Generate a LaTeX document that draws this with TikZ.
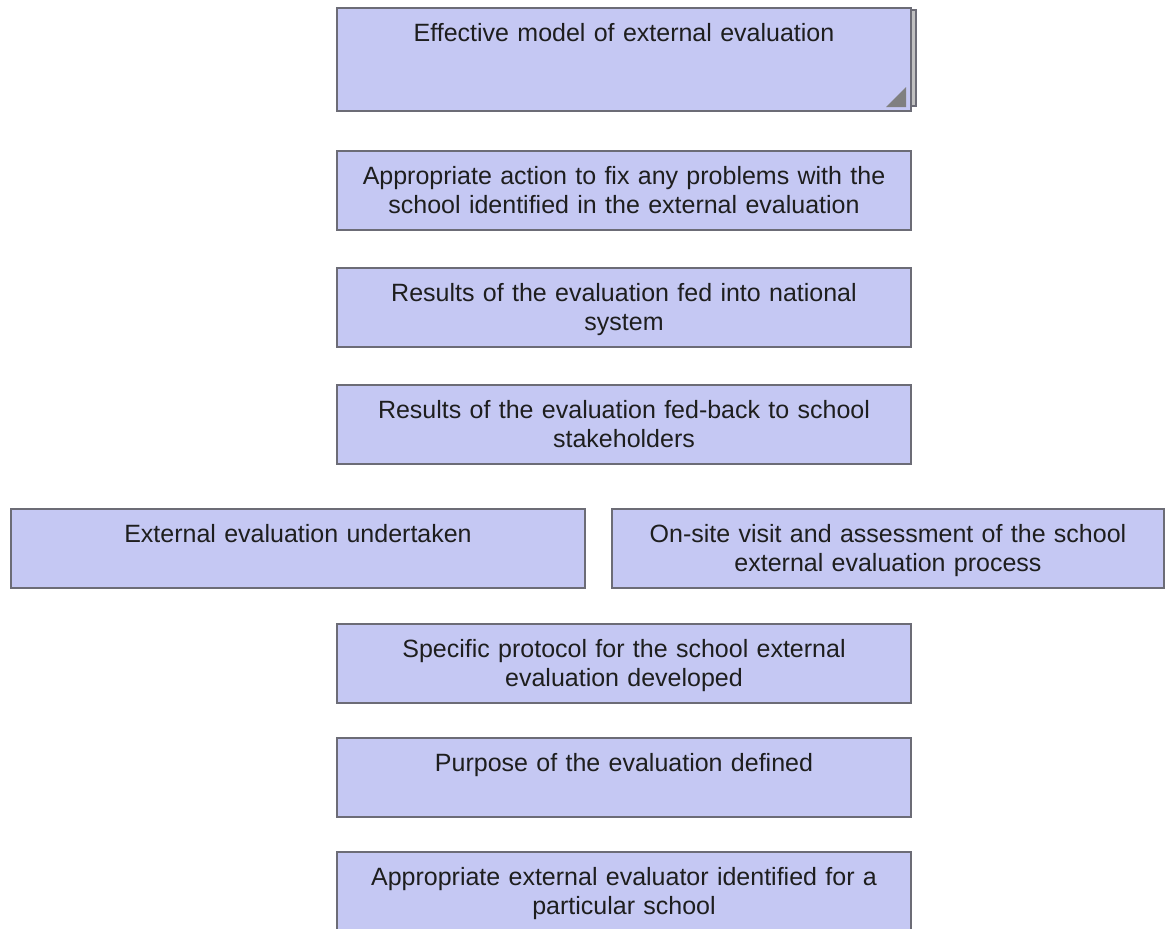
\documentclass[tikz,border=0pt]{standalone}
\usepackage{fontspec}
\setmainfont{Liberation Sans}
\usepackage{tikz}

\definecolor{stagefill}{RGB}{197,200,243}
\definecolor{stageline}{RGB}{108,108,118}
\definecolor{stagetext}{RGB}{30,30,30}
\definecolor{pagegrey}{RGB}{192,192,192}
\definecolor{cornergrey}{RGB}{128,128,128}

\tikzset{
	stage/.style={draw=stageline, fill=stagefill, line width=1pt, anchor=north,
		text=stagetext, align=center, inner xsep=0pt, inner ysep=0pt,
		font=\fontsize{12.5}{14.5}\selectfont,
		text width=287pt, text height=16.5pt, text depth=23pt},
	tall/.style={text depth=35pt}
}

\begin{document}
\begin{tikzpicture}[x=.5pt,y=-.5pt]

	\useasboundingbox (0,0) rectangle (1168,928);

	% page stacked behind the top box
	\draw[stageline, fill=pagegrey, line width=.8pt] (905,10) rectangle (916,106);

	\node[stage,tall] (model) at (624,7) {Effective model of external evaluation};
	\fill[cornergrey] (886,107) -- (906,107) -- (906,87) -- cycle;

	\node[stage] (action) at (624,150) {Appropriate action to fix any problems with the\\ school identified in the external evaluation};
	\node[stage] (national) at (624,267) {Results of the evaluation fed into national\\ system};
	\node[stage] (feedback) at (624,384) {Results of the evaluation fed-back to school\\ stakeholders};

	\node[stage] (undertaken) at (298,508) {External evaluation undertaken};
	\node[stage,text width=276pt] (visit) at (888,508) {On-site visit and assessment of the school\\ external evaluation process};

	\node[stage] (protocol) at (624,623) {Specific protocol for the school external\\ evaluation developed};
	\node[stage] (purpose) at (624,737) {Purpose of the evaluation defined};
	\node[stage] (evaluator) at (624,851) {Appropriate external evaluator identified for a\\ particular school};

\end{tikzpicture}
\end{document}
